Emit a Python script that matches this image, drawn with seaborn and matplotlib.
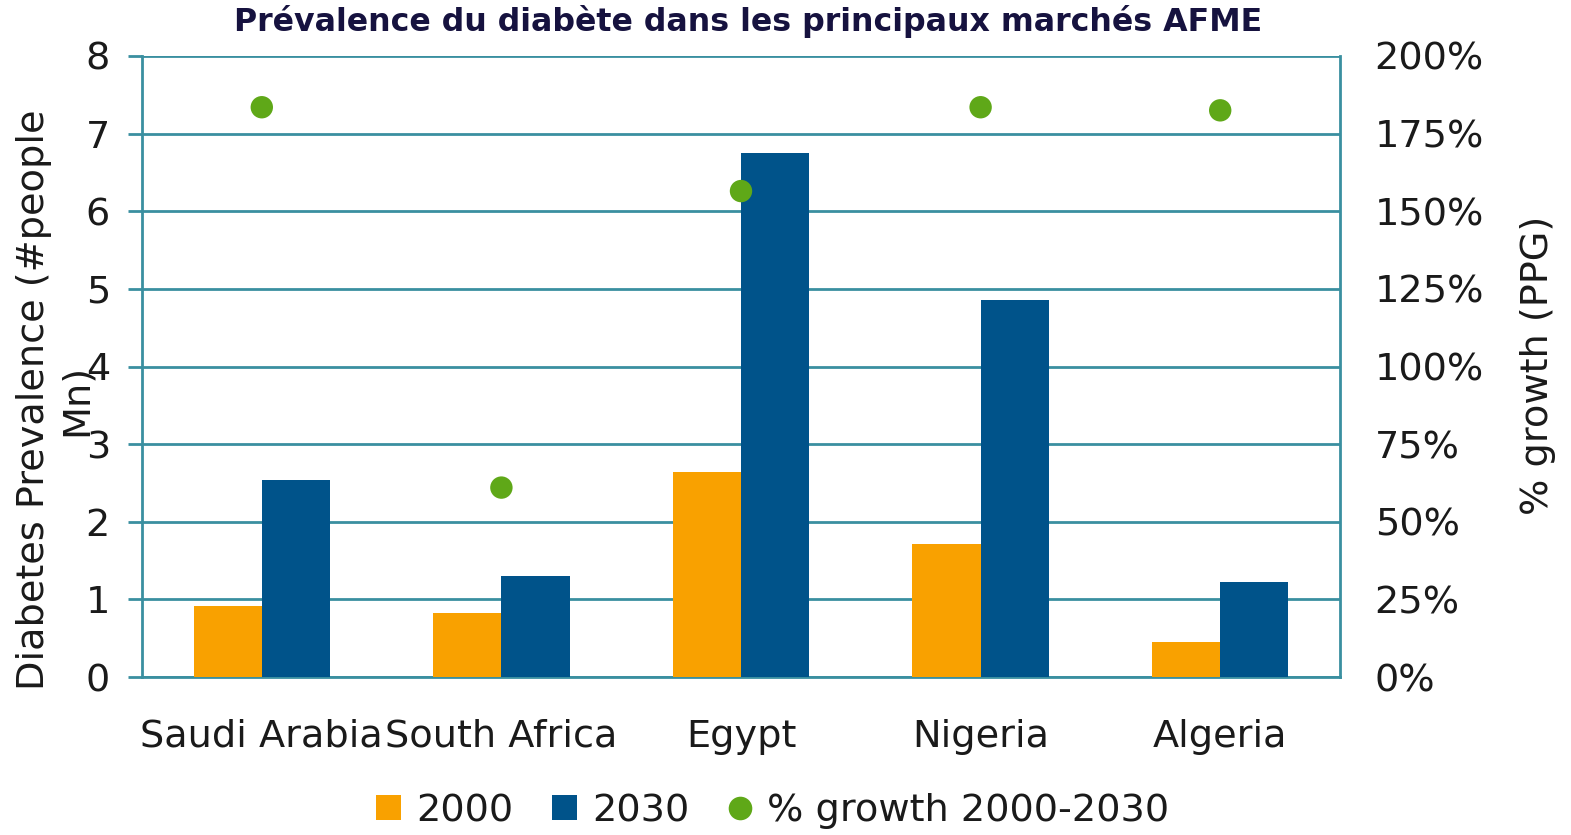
import numpy as np
import pandas as pd
import matplotlib
matplotlib.use("Agg")
import matplotlib.pyplot as plt
import seaborn as sns
from matplotlib.lines import Line2D
from matplotlib.patches import Patch

# Data
countries = ["Saudi Arabia", "South Africa", "Egypt", "Nigeria", "Algeria"]
prev_2000 = [0.91, 0.82, 2.64, 1.71, 0.45]
prev_2030 = [2.54, 1.30, 6.75, 4.86, 1.22]
growth_pct = [183.5, 61.0, 156.5, 183.5, 182.5]

c2000 = "#F9A100"
c2030 = "#00538A"
cgrowth = "#5FA818"
grid_col = "#3A8FA0"
txt = "#1a1a1a"
fs = 27.5

sns.set_style("white")
plt.rcParams["font.family"] = ["DejaVu Sans"]

df = pd.DataFrame({
    "country": countries * 2,
    "year": ["2000"] * 5 + ["2030"] * 5,
    "prev": prev_2000 + prev_2030,
})
gdf = pd.DataFrame({"country": countries, "growth": growth_pct})

fig = plt.figure(figsize=(15.71, 8.35), dpi=100)
ax = fig.add_axes([142 / 1571, 1 - 677 / 835, 1198 / 1571, 621 / 835])

sns.barplot(data=df, x="country", y="prev", hue="year",
            palette={"2000": c2000, "2030": c2030},
            width=0.57, gap=0, saturation=1, linewidth=0, legend=False,
            ax=ax, zorder=3)

ax.set_ylim(0, 8)
ax.set_xlim(-0.5, 4.5)
ax.set_yticks(range(0, 9))
ax.yaxis.grid(True, color=grid_col, linewidth=2)
ax.set_axisbelow(True)
for s in ["left", "right", "bottom"]:
    ax.spines[s].set_color(grid_col)
    ax.spines[s].set_linewidth(2)
ax.spines["top"].set_visible(False)

# category boundary ticks, labels as minor ticks
ax.set_xticks(np.arange(-0.5, 5, 1))
ax.set_xticklabels([])
ax.set_xticks(range(5), minor=True)
ax.set_xticklabels(countries, minor=True)
ax.tick_params(axis="x", which="major", length=13, width=2, color=grid_col, direction="out")
ax.tick_params(axis="x", which="minor", length=0, labelsize=fs, pad=30, labelcolor=txt)
ax.tick_params(axis="y", length=10, width=2, color=grid_col, labelsize=fs, pad=13, labelcolor=txt)
ax.set_xlabel("")
ax.set_ylabel("Diabetes Prevalence (#people\nMn)", fontsize=fs, color=txt,
              va="center", ha="center", linespacing=1.25)
ax.yaxis.set_label_coords(-0.072, 0.446)

ax2 = ax.twinx()
sns.scatterplot(data=gdf, x="country", y="growth", color=cgrowth, s=260,
                edgecolor="none", ax=ax2, zorder=4)
ax2.set_ylim(0, 200)
ax2.set_xlim(-0.5, 4.5)
ax2.set_yticks(range(0, 201, 25))
ax2.set_yticklabels([f"{v}%" for v in range(0, 201, 25)])
ax2.tick_params(axis="y", length=0, labelsize=fs, pad=25, labelcolor=txt)
for s in ax2.spines.values():
    s.set_visible(False)
ax2.set_ylabel("% growth (PPG)", fontsize=fs, color=txt, va="center")
ax2.yaxis.set_label_coords(1.165, 0.502)
ax2.set_xlabel("")

fig.suptitle("Prévalence du diabète dans les principaux marchés AFME",
             x=748 / 1571, y=1 - 22 / 835, va="center", fontsize=22.8,
             fontweight="bold", color="#16123F")

handles = [
    Patch(facecolor=c2000, edgecolor="none"),
    Patch(facecolor=c2030, edgecolor="none"),
    Line2D([], [], marker="o", linestyle="none", markersize=17,
           markerfacecolor=cgrowth, markeredgecolor="none"),
]
fig.legend(handles, ["2000", "2030", "% growth 2000-2030"], loc="center",
           bbox_to_anchor=(773 / 1571, 1 - 811 / 835), ncol=3, frameon=False,
           fontsize=fs, handlelength=0.65, handleheight=0.65, handletextpad=0.4,
           columnspacing=1.0, labelcolor=txt)

fig.savefig("out.png", dpi=100)
